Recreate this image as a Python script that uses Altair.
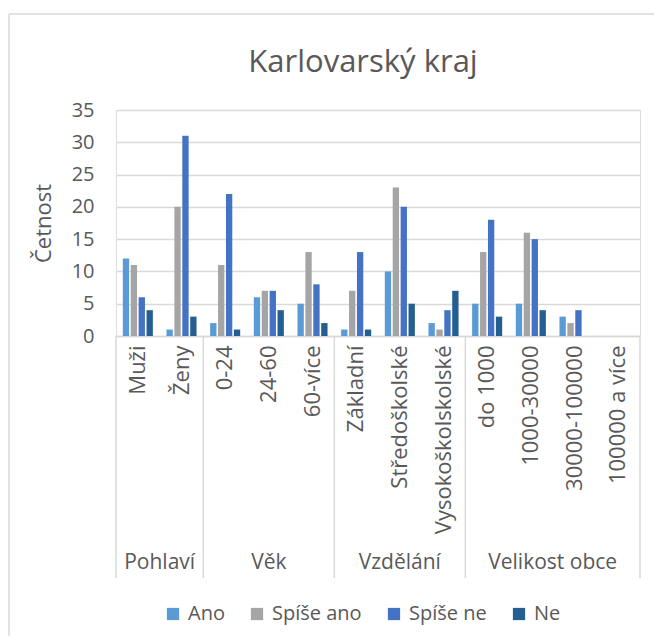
import altair as alt
import pandas as pd

# ---- data ----
cats = ["Muži", "Ženy", "0-24", "24-60", "60-více", "Základní", "Středoškolské",
        "Vysokoškolskolské", "do 1000", "1000-30000", "30000-100000", "100000 a více"]
groups = ["Pohlaví", "Věk", "Vzdělání", "Velikost obce"]
group_sizes = [2, 3, 3, 4]
series = ["Ano", "Spíše ano", "Spíše ne", "Ne"]
ano = [12, 1, 2, 6, 5, 1, 10, 2, 5, 5, 3, 0]
spise_ano = [11, 20, 11, 7, 13, 7, 23, 1, 13, 16, 2, 0]
spise_ne = [6, 31, 22, 7, 8, 13, 20, 4, 18, 15, 4, 0]
ne = [4, 3, 1, 4, 2, 1, 5, 7, 3, 4, 0, 0]
colors = ["#5B9BD5", "#A5A5A5", "#4472C4", "#255E91"]
chart_title = "Karlovarský kraj"

rows = []
for i, c in enumerate(cats):
    for s, vals in zip(series, [ano, spise_ano, spise_ne, ne]):
        rows.append({"kategorie": c, "odpoved": s, "cetnost": vals[i]})
df = pd.DataFrame(rows)

bounds = [0]
for n in group_sizes:
    bounds.append(bounds[-1] + n)
gdf = pd.DataFrame({"skupina": groups,
                    "stred": [(bounds[i] + bounds[i + 1]) / 2 for i in range(len(groups))]})
bdf = pd.DataFrame({"pos": bounds})

W, H = 524, 226
FONT = "Open Sans"
TXT = "#595959"
GRID = "#d9d9d9"
NCAT = len(cats)

bars = alt.Chart(df).mark_bar().encode(
    x=alt.X("kategorie:N", sort=cats,
            scale=alt.Scale(paddingInner=0, paddingOuter=0),
            axis=alt.Axis(title=None, labelAngle=270, labelFontSize=22, labelFont=FONT,
                          labelColor=TXT, ticks=False, domainColor=GRID, domainWidth=1.5,
                          labelPadding=9, labelLimit=400)),
    xOffset=alt.XOffset("odpoved:N", sort=series,
                        scale=alt.Scale(paddingInner=0.2, paddingOuter=0.86)),
    y=alt.Y("cetnost:Q", scale=alt.Scale(domain=[0, 35], nice=False),
            axis=alt.Axis(values=list(range(0, 36, 5)), title="Četnost",
                          titleFont=FONT, titleFontSize=22, titleFontWeight="normal",
                          titleColor=TXT, titlePadding=16,
                          labelFont=FONT, labelFontSize=20, labelColor=TXT, labelPadding=22,
                          domain=False, ticks=False, gridColor=GRID, gridWidth=1.5)),
    color=alt.Color("odpoved:N", sort=series,
                    scale=alt.Scale(domain=series, range=colors),
                    legend=alt.Legend(title=None, orient="none", direction="horizontal",
                                      legendX=47, legendY=494, symbolType="square",
                                      symbolSize=150, symbolStrokeWidth=0,
                                      labelFont=FONT, labelFontSize=20, labelColor=TXT,
                                      labelOffset=5, columnPadding=22)),
)

rules = alt.Chart(bdf).mark_rule(color=GRID, strokeWidth=1.5).encode(
    x=alt.X("pos:Q", scale=alt.Scale(domain=[0, NCAT], nice=False, zero=False), axis=None),
    y=alt.value(H),
    y2=alt.value(H + 242),
)

gtext = alt.Chart(gdf).mark_text(font=FONT, fontSize=21, color=TXT, baseline="middle").encode(
    x=alt.X("stred:Q", scale=alt.Scale(domain=[0, NCAT], nice=False, zero=False), axis=None),
    y=alt.value(453),
    text="skupina:N",
)

single = pd.DataFrame({"t": [chart_title]})
title_mark = alt.Chart(single).mark_text(font=FONT, fontSize=31, color=TXT,
                                         baseline="middle", align="center").encode(
    x=alt.value(247), y=alt.value(-47), text="t:N")

left_border = alt.Chart(single).mark_rule(color=GRID, strokeWidth=1.5).encode(
    x=alt.value(-107), y=alt.value(-96), y2=alt.value(H + 300))
top_border = alt.Chart(single).mark_rule(color=GRID, strokeWidth=1.5).encode(
    x=alt.value(-107), x2=alt.value(W + 30), y=alt.value(-96))

chart = alt.layer(bars, rules, gtext, title_mark, left_border, top_border).resolve_scale(
    x="independent"
).properties(
    width=W, height=H,
    autosize=alt.AutoSizeParams(type="none"),
    padding={"left": 108, "top": 102, "right": 14, "bottom": 300},
).configure_view(stroke=None).configure(background="white")

chart.save("out.html", embed_options={"renderer": "svg", "actions": False})
